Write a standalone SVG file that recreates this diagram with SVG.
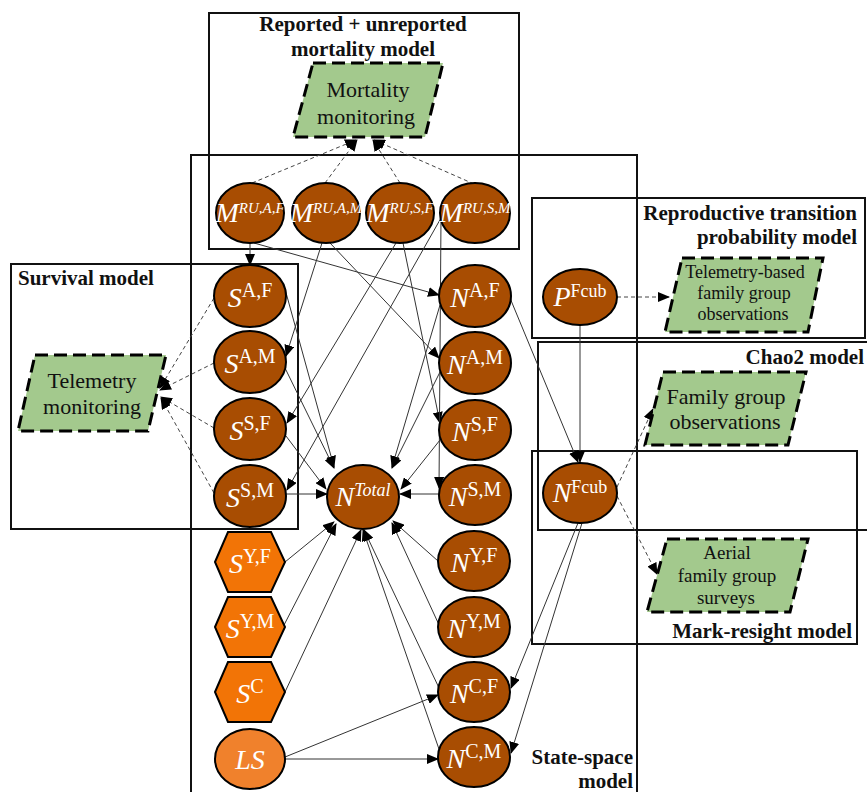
<svg xmlns="http://www.w3.org/2000/svg" width="867" height="792" viewBox="0 0 867 792">
<style>
.box{fill:none;stroke:#111;stroke-width:2}
.title{font-family:"Liberation Serif",serif;font-weight:bold;font-size:21px;fill:#111}
.obs{fill:#A3C98D;stroke:#000;stroke-width:3;stroke-dasharray:13 6}
.obst{font-family:"Liberation Serif",serif;fill:#111;text-anchor:middle}
.nd{fill:#A84D02;stroke:#000;stroke-width:2}
.hex{fill:#F27406;stroke:#000;stroke-width:2}
.ls{fill:#F0812C;stroke:#000;stroke-width:2}
.lab{font-family:"Liberation Serif",serif;fill:#fff;text-anchor:middle;font-size:28px}
.it{font-style:italic}
.c{fill:none;stroke:#333;stroke-width:1}
.d{fill:none;stroke:#444;stroke-width:1;stroke-dasharray:4 3}
</style>
<defs>
<marker id="ah" markerUnits="userSpaceOnUse" markerWidth="12" markerHeight="10" refX="11" refY="5" orient="auto">
<path d="M0,0 L12,5 L0,10 z" fill="#000"/>
</marker>
</defs>
<rect width="867" height="792" fill="#fff"/>

<g id="boxes">
<rect class="box" x="209" y="13" width="310" height="236"/>
<rect class="box" x="191" y="155" width="446" height="700"/>
<rect class="box" x="532" y="198" width="333" height="140"/>
<rect class="box" x="11" y="264" width="287" height="265"/>
<rect class="box" x="538" y="342" width="400" height="188"/>
<rect class="box" x="532" y="451" width="325" height="193"/>
<text class="title" x="363" y="31" text-anchor="middle">Reported + unreported</text>
<text class="title" x="363" y="56" text-anchor="middle">mortality model</text>
<text class="title" x="18" y="285">Survival model</text>
<text class="title" x="857" y="220" text-anchor="end">Reproductive transition</text>
<text class="title" x="857" y="244" text-anchor="end">probability model</text>
<text class="title" x="864" y="364" text-anchor="end">Chao2 model</text>
<text class="title" x="852" y="638" text-anchor="end">Mark-resight model</text>
<text class="title" x="633" y="764" text-anchor="end">State-space</text>
<text class="title" x="633" y="788" text-anchor="end">model</text>
</g>

<g id="connectors">
<line class="c" x1="250" y1="243" x2="250" y2="265" marker-end="url(#ah)"/>
<line class="c" x1="254" y1="243" x2="439" y2="295" marker-end="url(#ah)"/>
<line class="c" x1="322" y1="243" x2="286" y2="356" marker-end="url(#ah)"/>
<line class="c" x1="330" y1="243" x2="439" y2="358" marker-end="url(#ah)"/>
<line class="c" x1="396" y1="243" x2="287" y2="423" marker-end="url(#ah)"/>
<line class="c" x1="403" y1="243" x2="440" y2="423" marker-end="url(#ah)"/>
<line class="c" x1="441" y1="218" x2="287" y2="490" marker-end="url(#ah)"/>
<line class="c" x1="441" y1="218" x2="439" y2="488" marker-end="url(#ah)"/>
<line class="c" x1="285" y1="289" x2="334" y2="467" marker-end="url(#ah)"/>
<line class="c" x1="285" y1="368" x2="334" y2="468" marker-end="url(#ah)"/>
<line class="c" x1="286" y1="436" x2="326" y2="489" marker-end="url(#ah)"/>
<line class="c" x1="286" y1="494" x2="327" y2="494" marker-end="url(#ah)"/>
<line class="c" x1="440" y1="305" x2="392" y2="467" marker-end="url(#ah)"/>
<line class="c" x1="440" y1="372" x2="392" y2="468" marker-end="url(#ah)"/>
<line class="c" x1="440" y1="440" x2="401" y2="489" marker-end="url(#ah)"/>
<line class="c" x1="439" y1="494" x2="400" y2="494" marker-end="url(#ah)"/>
<line class="c" x1="285" y1="562" x2="334" y2="522" marker-end="url(#ah)"/>
<line class="c" x1="283" y1="627" x2="336" y2="524" marker-end="url(#ah)"/>
<line class="c" x1="285" y1="692" x2="361" y2="530" marker-end="url(#ah)"/>
<line class="c" x1="438" y1="561" x2="393" y2="521" marker-end="url(#ah)"/>
<line class="c" x1="440" y1="627" x2="392" y2="523" marker-end="url(#ah)"/>
<line class="c" x1="440" y1="690" x2="364" y2="530" marker-end="url(#ah)"/>
<line class="c" x1="440" y1="752" x2="363" y2="530" marker-end="url(#ah)"/>
<line class="c" x1="285" y1="757" x2="438" y2="695" marker-end="url(#ah)"/>
<line class="c" x1="285" y1="759" x2="438" y2="759" marker-end="url(#ah)"/>
<line class="c" x1="580" y1="325" x2="580" y2="462" marker-end="url(#ah)"/>
<line class="c" x1="510" y1="298" x2="578" y2="462" marker-end="url(#ah)"/>
<line class="c" x1="578" y1="523" x2="511" y2="688" marker-end="url(#ah)"/>
<line class="c" x1="582" y1="523" x2="511" y2="753" marker-end="url(#ah)"/>
<line class="d" x1="252" y1="183" x2="356" y2="140" marker-end="url(#ah)"/>
<line class="d" x1="325" y1="183" x2="357" y2="140" marker-end="url(#ah)"/>
<line class="d" x1="400" y1="183" x2="373" y2="140" marker-end="url(#ah)"/>
<line class="d" x1="474" y1="184" x2="374" y2="140" marker-end="url(#ah)"/>
<line class="d" x1="214" y1="298" x2="160" y2="388" marker-end="url(#ah)"/>
<line class="d" x1="214" y1="363" x2="160" y2="390" marker-end="url(#ah)"/>
<line class="d" x1="214" y1="428" x2="161" y2="397" marker-end="url(#ah)"/>
<line class="d" x1="214" y1="493" x2="161" y2="398" marker-end="url(#ah)"/>
<line class="d" x1="617" y1="297" x2="669" y2="297" marker-end="url(#ah)"/>
<line class="d" x1="617" y1="487" x2="653" y2="409" marker-end="url(#ah)"/>
<line class="d" x1="617" y1="496" x2="657" y2="574" marker-end="url(#ah)"/>
</g>

<g id="mort-mon">
<polygon class="obs" points="313,63 443,63 425,137 293,137"/>
<text class="obst" x="368" y="97" font-size="22">Mortality</text>
<text class="obst" x="366" y="124" font-size="22">monitoring</text>
</g>
<g id="tel-mon">
<polygon class="obs" points="35,355 166,355 148,431 18,431"/>
<text class="obst" x="92" y="388" font-size="22">Telemetry</text>
<text class="obst" x="92" y="414" font-size="22">monitoring</text>
</g>
<g id="tel-based">
<polygon class="obs" points="682,258 823,258 808,332 665,332"/>
<text class="obst" x="745" y="278" font-size="18">Telemetry-based</text>
<text class="obst" x="744" y="299" font-size="18">family group</text>
<text class="obst" x="743" y="320" font-size="18">observations</text>
</g>
<g id="fam-obs">
<polygon class="obs" points="663,372 806,372 788,445 645,445"/>
<text class="obst" x="726" y="404" font-size="22">Family group</text>
<text class="obst" x="725" y="429" font-size="22">observations</text>
</g>
<g id="aerial">
<polygon class="obs" points="667,539 808,539 790,612 647,612"/>
<text class="obst" x="727" y="559" font-size="19">Aerial</text>
<text class="obst" x="727" y="582" font-size="19">family group</text>
<text class="obst" x="726" y="604" font-size="19">surveys</text>
</g>

<g id="M-RU-AF"><ellipse class="nd" cx="250" cy="213" rx="34" ry="30"/><text class="lab it" x="250" y="222" font-size="23">M<tspan dy="-9" font-size="15">RU,A,F</tspan></text></g>
<g id="M-RU-AM"><ellipse class="nd" cx="326" cy="213" rx="34" ry="30"/><text class="lab it" x="326" y="222" font-size="23">M<tspan dy="-9" font-size="15">RU,A,M</tspan></text></g>
<g id="M-RU-SF"><ellipse class="nd" cx="400" cy="213" rx="34" ry="30"/><text class="lab it" x="400" y="222" font-size="23">M<tspan dy="-9" font-size="15">RU,S,F</tspan></text></g>
<g id="M-RU-SM"><ellipse class="nd" cx="475" cy="213" rx="35" ry="30"/><text class="lab it" x="475" y="222" font-size="23">M<tspan dy="-9" font-size="15">RU,S,M</tspan></text></g>

<g id="S-AF"><ellipse class="nd" cx="250" cy="296" rx="36" ry="31"/><text class="lab" x="250" y="307"><tspan class="it">S</tspan><tspan dy="-10" font-size="20">A,F</tspan></text></g>
<g id="S-AM"><ellipse class="nd" cx="250" cy="362" rx="36" ry="31"/><text class="lab" x="250" y="373"><tspan class="it">S</tspan><tspan dy="-10" font-size="20">A,M</tspan></text></g>
<g id="S-SF"><ellipse class="nd" cx="250" cy="429" rx="36" ry="31"/><text class="lab" x="250" y="440"><tspan class="it">S</tspan><tspan dy="-10" font-size="20">S,F</tspan></text></g>
<g id="S-SM"><ellipse class="nd" cx="250" cy="496" rx="36" ry="31"/><text class="lab" x="250" y="507"><tspan class="it">S</tspan><tspan dy="-10" font-size="20">S,M</tspan></text></g>

<g id="S-YF"><polygon class="hex" points="215,562 228,532 271,532 285,562 271,592 228,592"/><text class="lab" x="250" y="573"><tspan class="it">S</tspan><tspan dy="-10" font-size="20">Y,F</tspan></text></g>
<g id="S-YM"><polygon class="hex" points="215,627 228,597 271,597 285,627 271,657 228,657"/><text class="lab" x="250" y="638"><tspan class="it">S</tspan><tspan dy="-10" font-size="20">Y,M</tspan></text></g>
<g id="S-C"><polygon class="hex" points="215,692 228,662 271,662 285,692 271,722 228,722"/><text class="lab" x="250" y="703"><tspan class="it">S</tspan><tspan dy="-10" font-size="20">C</tspan></text></g>
<g id="LS"><ellipse class="ls" cx="250" cy="759" rx="35" ry="30"/><text class="lab it" x="250" y="769">LS</text></g>

<g id="N-Total"><ellipse class="nd" cx="363" cy="497" rx="36" ry="32"/><text class="lab it" x="363" y="506" font-size="27">N<tspan dy="-10" font-size="18">Total</tspan></text></g>

<g id="N-AF"><ellipse class="nd" cx="475" cy="296" rx="36" ry="31"/><text class="lab" x="475" y="307"><tspan class="it">N</tspan><tspan dy="-10" font-size="20">A,F</tspan></text></g>
<g id="N-AM"><ellipse class="nd" cx="475" cy="363" rx="36" ry="31"/><text class="lab" x="475" y="374"><tspan class="it">N</tspan><tspan dy="-10" font-size="20">A,M</tspan></text></g>
<g id="N-SF"><ellipse class="nd" cx="475" cy="430" rx="36" ry="30"/><text class="lab" x="475" y="441"><tspan class="it">N</tspan><tspan dy="-10" font-size="20">S,F</tspan></text></g>
<g id="N-SM"><ellipse class="nd" cx="475" cy="495" rx="36" ry="30"/><text class="lab" x="475" y="506"><tspan class="it">N</tspan><tspan dy="-10" font-size="20">S,M</tspan></text></g>
<g id="N-YF"><ellipse class="nd" cx="474" cy="561" rx="36" ry="30"/><text class="lab" x="474" y="572"><tspan class="it">N</tspan><tspan dy="-10" font-size="20">Y,F</tspan></text></g>
<g id="N-YM"><ellipse class="nd" cx="474" cy="627" rx="36" ry="30"/><text class="lab" x="474" y="638"><tspan class="it">N</tspan><tspan dy="-10" font-size="20">Y,M</tspan></text></g>
<g id="N-CF"><ellipse class="nd" cx="474" cy="692" rx="36" ry="30"/><text class="lab" x="474" y="703"><tspan class="it">N</tspan><tspan dy="-10" font-size="20">C,F</tspan></text></g>
<g id="N-CM"><ellipse class="nd" cx="474" cy="757" rx="36" ry="30"/><text class="lab" x="474" y="768"><tspan class="it">N</tspan><tspan dy="-10" font-size="20">C,M</tspan></text></g>

<g id="P-Fcub"><ellipse class="nd" cx="580" cy="297" rx="37" ry="28"/><text class="lab" x="580" y="306" font-size="25"><tspan class="it">P</tspan><tspan dy="-9" font-size="18">Fcub</tspan></text></g>
<g id="N-Fcub"><ellipse class="nd" cx="580" cy="493" rx="37" ry="30"/><text class="lab" x="580" y="502" font-size="25"><tspan class="it">N</tspan><tspan dy="-9" font-size="18">Fcub</tspan></text></g>
</svg>
